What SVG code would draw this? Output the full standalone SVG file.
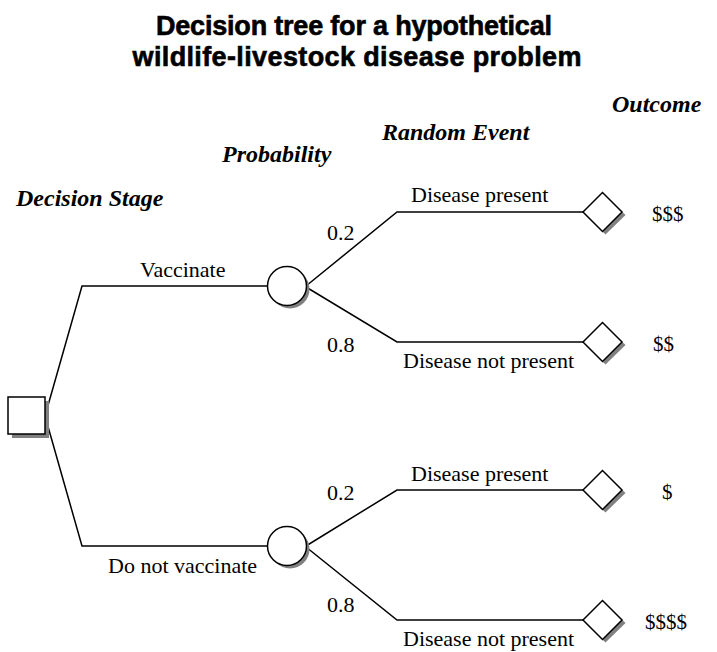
<svg xmlns="http://www.w3.org/2000/svg" width="717" height="652" viewBox="0 0 717 652">
<style>
.title{font-family:"Liberation Sans",Arial,sans-serif;font-weight:bold;font-size:27px;fill:#000;stroke:#000;stroke-width:0.6;text-anchor:middle}
.hdr{font-family:"Liberation Serif","Times New Roman",serif;font-weight:bold;font-style:italic;font-size:24px;fill:#000}
.lbl{font-family:"Liberation Serif","Times New Roman",serif;font-size:22px;fill:#000}
.out{font-family:"Liberation Serif","Times New Roman",serif;font-size:21px;fill:#000}
.edge{fill:none;stroke:#000;stroke-width:1.5}
.shadow{fill:#808080;stroke:none}
.node{fill:#fff;stroke:#000;stroke-width:1.5}
</style>
<rect width="717" height="652" fill="#fff"/>
<g id="title">
<text class="title" x="354" y="35" textLength="396">Decision tree for a hypothetical</text>
<text class="title" x="357" y="66" textLength="449">wildlife-livestock disease problem</text>
</g>
<g id="headers">
<text class="hdr" x="16" y="206">Decision Stage</text>
<text class="hdr" x="222" y="162">Probability</text>
<text class="hdr" x="382" y="140">Random Event</text>
<text class="hdr" x="612" y="112">Outcome</text>
</g>
<g id="connectors">
<polyline class="edge" points="45,416 82,286 268,286"/>
<polyline class="edge" points="45,416 82,546 268,546"/>
<polyline class="edge" points="306,286 397,212 583,212"/>
<polyline class="edge" points="306,287 397,342 583,342"/>
<polyline class="edge" points="306,546 397,490 583,490"/>
<polyline class="edge" points="306,547 397,620 583,620"/>
</g>
<g id="edge-labels">
<text class="lbl" x="140" y="277">Vaccinate</text>
<text class="lbl" x="108" y="573">Do not vaccinate</text>
<text class="lbl" x="327" y="240">0.2</text>
<text class="lbl" x="327" y="352">0.8</text>
<text class="lbl" x="327" y="500">0.2</text>
<text class="lbl" x="327" y="612">0.8</text>
<text class="lbl" x="411" y="202">Disease present</text>
<text class="lbl" x="403" y="368">Disease not present</text>
<text class="lbl" x="411" y="481">Disease present</text>
<text class="lbl" x="403" y="646">Disease not present</text>
</g>
<g id="decision">
<rect class="shadow" x="12" y="401" width="37" height="37"/>
<rect class="node" x="8" y="397" width="37" height="37"/>
</g>
<g id="chance-vaccinate">
<circle class="shadow" cx="290" cy="289" r="19.5"/>
<circle class="node" cx="287" cy="286" r="19.5"/>
</g>
<g id="chance-novaccinate">
<circle class="shadow" cx="290" cy="549" r="19.5"/>
<circle class="node" cx="287" cy="546" r="19.5"/>
</g>
<g id="outcome1">
<polygon class="shadow" points="585.5,215 605.5,195.5 625.5,215 605.5,234.5"/>
<polygon class="node" points="583,212 602.5,192.5 622,212 602.5,231.5"/>
<text class="out" x="652" y="221">$$$</text>
</g>
<g id="outcome2">
<polygon class="shadow" points="585.5,345 605.5,325.5 625.5,345 605.5,364.5"/>
<polygon class="node" points="583,342 602.5,322.5 622,342 602.5,361.5"/>
<text class="out" x="653" y="351">$$</text>
</g>
<g id="outcome3">
<polygon class="shadow" points="585.5,493 605.5,473.5 625.5,493 605.5,512.5"/>
<polygon class="node" points="583,490 602.5,470.5 622,490 602.5,509.5"/>
<text class="out" x="662" y="499">$</text>
</g>
<g id="outcome4">
<polygon class="shadow" points="585.5,623 605.5,603.5 625.5,623 605.5,642.5"/>
<polygon class="node" points="583,620 602.5,600.5 622,620 602.5,639.5"/>
<text class="out" x="645" y="629">$$$$</text>
</g>
</svg>
